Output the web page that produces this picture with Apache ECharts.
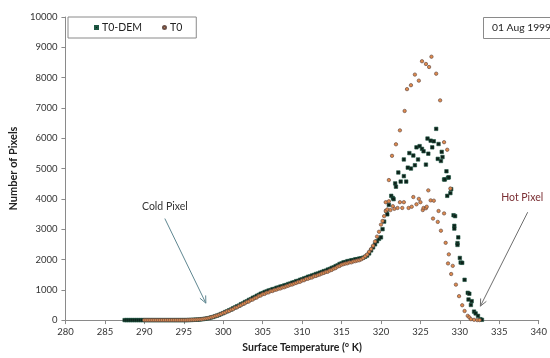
<!DOCTYPE html>
<html><head><meta charset="utf-8">
<script src="https://cdn.jsdelivr.net/npm/echarts@6/dist/echarts.min.js"></script>
<style>html,body{margin:0;padding:0;background:#fff}#c{width:550px;height:358px}</style>
</head><body><div id="c"></div>
<script>
// Continuous-region bin temperatures (K)
const binTemps = [
287.5,287.75,288,288.25,288.5,288.75,289,289.25,289.5,289.75,
290,290.25,290.5,290.75,291,291.25,291.5,291.75,292,292.25,292.5,292.75,
293,293.25,293.5,293.75,294,294.25,294.5,294.75,295,295.25,295.5,295.75,
296,296.25,296.5,296.75,297,297.25,297.5,297.75,298,298.25,298.5,298.75,
299,299.25,299.5,299.75,300,300.25,300.5,300.75,301,301.25,301.5,301.75,
302,302.25,302.5,302.75,303,303.25,303.5,303.75,304,304.25,304.5,304.75,
305,305.25,305.5,305.75,306,306.25,306.5,306.75,307,307.25,307.5,307.75,
308,308.25,308.5,308.75,309,309.25,309.5,309.75,310,310.25,310.5,310.75,
311,311.25,311.5,311.75,312,312.25,312.5,312.75,313,313.25,313.5,313.75,
314,314.25,314.5,314.75,315,315.25,315.5,315.75,316,316.25,316.5,316.75,
317,317.25,317.5,317.75,318,318.25,318.5,318.75,319,319.25,319.5,319.75
];
const demBinCounts = [
0,0,0,0,0,0,0,0,0,0,
0,0,0,0,0,0,0,0,0,0,0,0,
0,0,0,0,0,0,0,0,0,0,0,5,
5,10,15,15,20,30,35,45,60,70,90,105,
130,150,175,205,230,265,290,325,350,390,420,455,
480,525,550,595,620,665,690,735,760,800,830,870,
890,925,945,975,990,1020,1030,1065,1075,1105,1115,1145,
1160,1190,1205,1235,1250,1285,1295,1330,1345,1375,1395,1430,
1440,1470,1490,1520,1535,1565,1585,1615,1630,1665,1685,1720,
1740,1780,1805,1850,1870,1905,1915,1945,1950,1975,1980,2005,
2010,2030,2040,2060,2090,2130,2200,2300,2400,2500,2600,2680
];
const t0BinCounts = [
null,null,null,null,null,null,null,null,null,null,
0,0,0,0,0,0,0,0,0,0,0,0,
0,0,0,0,0,0,0,0,0,0,5,5,
10,10,15,20,25,30,40,50,60,75,95,110,
135,150,180,200,235,250,290,300,345,360,410,420,
465,490,530,555,600,615,665,680,725,745,795,810,
855,865,905,915,955,960,995,1005,1035,1045,1075,1085,
1115,1135,1165,1175,1205,1225,1255,1265,1305,1315,1355,1365,
1395,1405,1445,1455,1485,1505,1535,1555,1585,1595,1635,1655,
1695,1715,1765,1785,1825,1845,1865,1875,1905,1905,1935,1945,
1965,1975,2005,2045,2105,2165,2255,2345,2455,2595,2755,2915
];
// Peak-region points (scattered)
const demPeakTemps = [320.0,320.2,320.4,320.7,320.8,321.0,321.3,321.5,321.6,321.8,321.9,322.2,322.5,322.9,322.9,323.2,323.4,323.6,323.8,324.1,324.3,324.5,324.7,324.9,325.2,325.4,325.7,325.9,326.0,326.3,326.5,326.7,327.0,327.2,327.3,327.6,327.7,327.8,328.0,328.1,328.3,328.5,328.6,328.4,328.8,328.9,329.2,329.4,329.3,329.3,329.8,329.7,329.7,330.0,330.1,330.3,330.6,331.0,331.2,331.1,331.5,331.4,331.8,332.0,332.3,332.6,332.8];
const demPeakCounts = [2730,3000,3250,3600,3490,3800,4100,4030,3990,4510,4400,4870,4570,4750,5300,4570,5030,5510,5000,5430,5110,5700,5300,5740,5650,5570,5130,5990,5490,5920,5700,5900,6310,5320,5810,5250,5550,5380,4640,4640,4910,4700,4710,4100,4190,4320,3460,3430,3110,3020,2730,2540,2480,2050,1900,1890,1330,900,870,680,625,500,280,220,140,30,10];
const t0PeakTemps = [320.0,320.2,320.4,320.6,320.8,320.6,321.0,321.0,321.2,321.4,321.5,321.7,321.9,322.1,322.4,322.4,322.7,322.9,323.0,323.3,323.5,323.8,323.9,324.1,324.3,324.5,324.8,324.8,325.0,325.2,325.3,325.4,325.7,325.7,325.8,326.0,326.1,326.3,326.4,326.6,326.7,327.0,327.2,327.3,327.5,327.6,328.0,328.0,328.2,328.4,328.6,328.5,328.8,329.1,328.9,329.5,329.9,330.3,330.6,331.0,331.2,331.4,331.8,332.2,332.5];
const t0PeakCounts = [3150,3270,3430,3600,3650,3890,4620,3920,3630,5420,3760,3670,5800,3700,3890,6260,3700,3890,6900,7620,3700,7750,3740,4060,8100,3820,4000,7900,3890,8540,3630,3700,8450,3690,3740,4280,8350,3950,8690,3350,3940,8130,3240,3600,7250,2950,5870,3520,2550,5620,2170,1870,4340,1790,1520,1170,790,490,300,140,90,30,10,0,0];
const yTicks = [0,1000,2000,3000,4000,5000,6000,7000,8000,9000,10000];
const xTicks = [280,285,290,295,300,305,310,315,320,325,330,335,340];

function zip(xs, ys){ const out=[]; for(let i=0;i<xs.length;i++){ if(ys[i]!==null) out.push([xs[i], ys[i]]);} return out; }
const demData = zip(binTemps, demBinCounts).concat(zip(demPeakTemps, demPeakCounts));
const t0Data = zip(binTemps, t0BinCounts).concat(zip(t0PeakTemps, t0PeakCounts));

const FONT = 'Lato';
const axisColor = '#8a8a8a';
const chart = echarts.init(document.getElementById('c'), null, {renderer:'canvas'});
const option = {
  animation:false,
  backgroundColor:'#fff',
  textStyle:{fontFamily:FONT},
  grid:{left:58, right:9, top:17, bottom:32, containLabel:false},
  legend:{
    left:68, top:17, orient:'horizontal',
    padding:[5,14,5,26], itemGap:20, itemWidth:3, itemHeight:3,
    borderColor:'#8a8a8a', borderWidth:1, backgroundColor:'#fff',
    textStyle:{fontFamily:FONT, fontSize:10.5, color:'#222', padding:[0,0,0,-1]},
    data:[{name:'T0-DEM', icon:'rect'},{name:'T0', icon:'circle'}]
  },
  xAxis:{
    type:'value', min:xTicks[0], max:xTicks[xTicks.length-1], interval:5,
    name:'Surface Temperature (° K)', nameLocation:'middle', nameGap:20,
    nameTextStyle:{fontFamily:FONT, fontWeight:'bold', fontSize:10.5, color:'#222'},
    axisLine:{show:true, lineStyle:{color:axisColor}},
    axisTick:{show:true, length:4, lineStyle:{color:axisColor}},
    axisLabel:{fontFamily:FONT, fontSize:9.5, color:'#333', margin:7},
    splitLine:{show:false}
  },
  yAxis:{
    type:'value', min:yTicks[0], max:yTicks[yTicks.length-1], interval:1000,
    name:'Number of Pixels', nameLocation:'middle', nameGap:40,
    nameTextStyle:{fontFamily:FONT, fontWeight:'bold', fontSize:11, color:'#222'},
    axisLine:{show:true, lineStyle:{color:axisColor}},
    axisTick:{show:true, length:4, lineStyle:{color:axisColor}},
    axisLabel:{fontFamily:FONT, fontSize:9.5, color:'#333', margin:8, formatter:function(v){return String(v);}},
    splitLine:{show:false}
  },
  series:[
    {name:'T0-DEM', type:'scatter', symbol:'rect', symbolSize:3.5, data:demData,
     itemStyle:{color:'#0d1f18', borderColor:'#1d5642', borderWidth:0.6, opacity:1}},
    {name:'T0', type:'scatter', symbol:'circle', symbolSize:3.4, data:t0Data,
     itemStyle:{color:'#e08a4c', borderColor:'#6a5048', borderWidth:0.7, opacity:1}}
  ]
};
chart.setOption(option);

function arrow(from, to, color){
  const p1 = chart.convertToPixel({gridIndex:0}, from);
  const p2 = chart.convertToPixel({gridIndex:0}, to);
  const dx = p2[0]-p1[0], dy = p2[1]-p1[1];
  const len = Math.sqrt(dx*dx+dy*dy), ux = dx/len, uy = dy/len;
  const h = 7, w = 3.2;
  const a = [p2[0]-ux*h - uy*w, p2[1]-uy*h + ux*w];
  const b = [p2[0]-ux*h + uy*w, p2[1]-uy*h - ux*w];
  return [
    {type:'line', shape:{x1:p1[0],y1:p1[1],x2:p2[0],y2:p2[1]}, style:{stroke:color, lineWidth:1}, z:100},
    {type:'polyline', shape:{points:[a,p2,b]}, style:{stroke:color, lineWidth:1, fill:null}, z:100}
  ];
}
function label(pos, text, color){
  const p = chart.convertToPixel({gridIndex:0}, pos);
  return {type:'text', x:p[0], y:p[1], z:100,
    style:{text:text, fill:color, font:'10.5px '+FONT, textAlign:'center', textVerticalAlign:'middle'}};
}
const g = [];
g.push(...arrow([292.6,3350],[297.8,560],'#5f8791'));
g.push(...arrow([338.6,3560],[332.6,460],'#6e6e6e'));
g.push(label([292.6,3750],'Cold Pixel','#333'));
g.push(label([337.9,4050],'Hot Pixel','#7a2e33'));
g.push({type:'rect', shape:{x:483.5,y:17.5,width:90,height:21}, style:{stroke:'#8a8a8a', fill:'#fff', lineWidth:1}, z:100});
g.push({type:'text', x:492, y:28, z:101, style:{text:'01 Aug 1999', fill:'#222', font:'10.3px '+FONT, textVerticalAlign:'middle'}});
chart.setOption({graphic:g});
</script>
</body></html>
